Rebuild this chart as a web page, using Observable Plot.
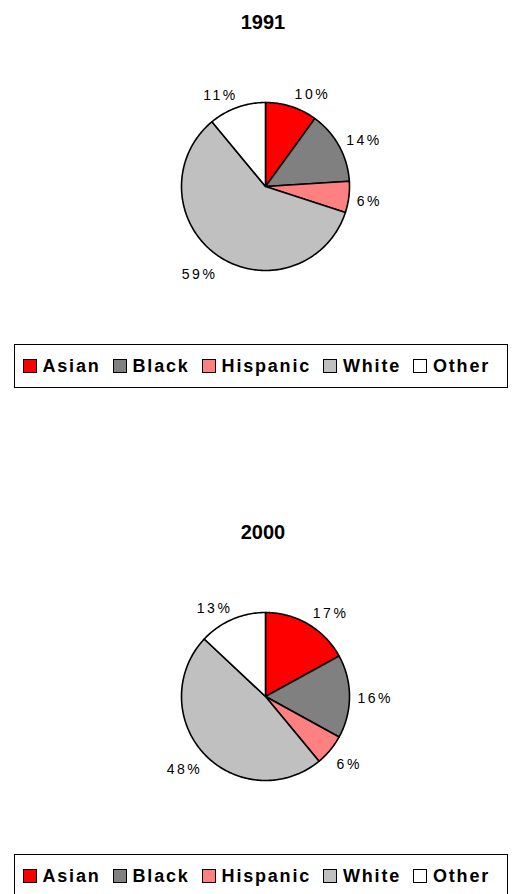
<!DOCTYPE html>
<html>
<head>
<meta charset="utf-8">
<script src="https://cdn.jsdelivr.net/npm/d3@7"></script>
<script src="https://cdn.jsdelivr.net/npm/@observablehq/plot@0.6"></script>
<style>
  body { margin: 0; background: #fff; font-family: "Liberation Sans", Arial, sans-serif; }
  #root { position: relative; width: 512px; height: 894px; overflow: hidden; background: #fff; }
  .block { position: absolute; left: 0; width: 512px; height: 510px; }
  .title { position: absolute; left: 0; width: 526px; top: 12px; text-align: center;
           font-weight: bold; font-size: 20px; line-height: 20px; color: #000; }
  .plotwrap { position: absolute; left: 0; top: 0; }
  .plotwrap svg text { letter-spacing: 2.5px; }
  .legend { position: absolute; left: 14px; top: 344px; width: 494px; height: 44px;
            border: 1.5px solid #000; background: #fff; display: flex; align-items: center;
            box-sizing: border-box; padding-left: 7.5px; gap: 12px; }
  .item { display: flex; align-items: center; }
  .sw { width: 12px; height: 12px; border: 1px solid #000; margin-right: 6px; }
  .lab { font-weight: bold; font-size: 18px; letter-spacing: 1.8px; color: #000; }
</style>
</head>
<body>
<div id="root"></div>
<script>
// ---- data ----
const categories = ["Asian", "Black", "Hispanic", "White", "Other"];
const colors = ["#ff0000", "#808080", "#ff8080", "#c0c0c0", "#ffffff"];
const years = ["1991", "2000"];
const values1991 = [10, 14, 6, 59, 11];
const values2000 = [17, 16, 6, 48, 13];
const seriesValues = [values1991, values2000];

// ---- layout ----
const W = 512, H = 330, CX = 265, CY = 186, R = 84, BLOCK = 510;

function pieParts(values) {
  const arcs = d3.pie().sort(null).value(d => d)(values);
  const pts = [];
  const labels = [];
  arcs.forEach((a, i) => {
    const cat = categories[i];
    pts.push({cat, x: 0, y: 0});
    const n = Math.max(2, Math.ceil((a.endAngle - a.startAngle) / (Math.PI / 180)));
    for (let k = 0; k <= n; k++) {
      const t = a.startAngle + (a.endAngle - a.startAngle) * k / n;
      pts.push({cat, x: R * Math.sin(t), y: R * Math.cos(t)});
    }
    pts.push({cat, x: 0, y: 0});
    const m = (a.startAngle + a.endAngle) / 2;
    const s = Math.sin(m), c = Math.cos(m);
    const down = c >= 0 ? (1 - 3.5 * c) : (2 + 10 * (-c));
    labels.push({
      label: values[i] + "%",
      right: s > 0,
      x: (R + 7) * s + (s > 0 ? 1 : 3),
      y: (R + 10) * c - down
    });
  });
  return {pts, labels};
}

const root = document.getElementById("root");
years.forEach((yr, bi) => {
  const block = document.createElement("div");
  block.className = "block";
  block.style.top = (bi * BLOCK) + "px";
  root.appendChild(block);

  const {pts, labels} = pieParts(seriesValues[bi]);
  const chart = Plot.plot({
    width: W, height: H, margin: 0,
    style: {fontFamily: "'Liberation Sans', Arial, sans-serif", background: "transparent", overflow: "visible"},
    x: {domain: [-CX, W - CX], axis: null},
    y: {domain: [CY - H, CY], axis: null},
    color: {domain: categories, range: colors},
    marks: [
      Plot.line(pts, {x: "x", y: "y", z: "cat", fill: "cat", stroke: "#000", strokeWidth: 1.6, strokeLinejoin: "round", curve: "linear"}),
      Plot.text(labels.filter(d => d.right), {x: "x", y: "y", text: "label", textAnchor: "start", fontSize: 14, fill: "#000"}),
      Plot.text(labels.filter(d => !d.right), {x: "x", y: "y", text: "label", textAnchor: "end", fontSize: 14, fill: "#000"})
    ]
  });
  const wrap = document.createElement("div");
  wrap.className = "plotwrap";
  wrap.appendChild(chart);
  block.appendChild(wrap);

  const title = document.createElement("div");
  title.className = "title";
  title.textContent = yr;
  block.appendChild(title);

  const legend = document.createElement("div");
  legend.className = "legend";
  categories.forEach((cat, i) => {
    const it = document.createElement("div");
    it.className = "item";
    const sw = document.createElement("div");
    sw.className = "sw";
    sw.style.background = colors[i];
    const lb = document.createElement("span");
    lb.className = "lab";
    lb.textContent = cat;
    it.appendChild(sw); it.appendChild(lb);
    legend.appendChild(it);
  });
  block.appendChild(legend);
});
</script>
</body>
</html>
